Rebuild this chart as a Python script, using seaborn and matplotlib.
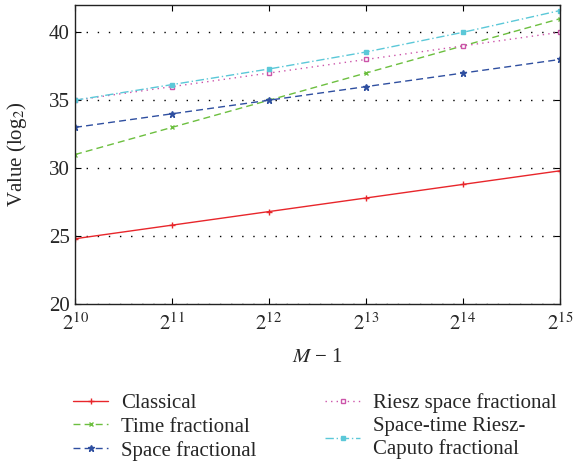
import numpy as np
import pandas as pd
import matplotlib
matplotlib.use("Agg")
import matplotlib.pyplot as plt
import seaborn as sns

# data
exponents = [10, 11, 12, 13, 14, 15]
x_labels = [f"$2^{{{e}}}$" for e in exponents]

classical = [24.8, 25.8, 26.8, 27.8, 28.8, 29.8]
time_frac = [31, 33, 35, 37, 39, 41]
space_frac = [33, 34, 35, 36, 37, 38]
riesz_space = [35, 36, 37, 38, 39, 40]
space_time = [35, 36.15, 37.3, 38.55, 40, 41.6]

series_names = ["Classical", "Time fractional", "Space fractional",
                "Riesz space fractional", "Space-time Riesz-\nCaputo fractional"]
series_values = [classical, time_frac, space_frac, riesz_space, space_time]

sns.set_theme(style="ticks")
plt.rcParams['font.family'] = ['Liberation Serif', 'DejaVu Serif']
plt.rcParams['mathtext.fontset'] = 'stix'

styles = [
    dict(color='#e8262b', ls='-', marker='+', ms=4, mfc='#e8262b'),
    dict(color='#6cbf3f', ls=(0, (5, 3)), marker='x', ms=3.5, mfc='#6cbf3f'),
    dict(color='#2f4fa0', ls=(0, (5, 3)), marker='*', ms=4.5, mfc='#2f4fa0'),
    dict(color='#cc55aa', ls=(0, (1, 3)), marker='s', ms=3.5, mfc='white'),
    dict(color='#5bc8d8', ls=(0, (6, 2, 1, 2)), marker='s', ms=3.5, mfc='#5bc8d8'),
]

fig = plt.figure(figsize=(5.73, 4.69), dpi=100)
ax = fig.add_axes([0.131, 0.352, 0.846, 0.637])

for name, vals, st in zip(series_names, series_values, styles):
    df = pd.DataFrame({'x': exponents, 'y': vals})
    sns.lineplot(data=df, x='x', y='y', ax=ax, label=name,
                 color=st['color'], linestyle=st['ls'], marker=st['marker'],
                 markersize=st['ms'], markerfacecolor=st['mfc'],
                 markeredgecolor=st['color'], markeredgewidth=1.0, linewidth=1.0)

ax.set_xlim(10, 15)
ax.set_ylim(20, 42)
ax.set_xticks(exponents)
ax.set_xticklabels(x_labels, fontsize=15)
ax.set_yticks([20, 25, 30, 35, 40])
ax.tick_params(axis='both', direction='in', top=True, right=True, labelsize=15,
               length=4, width=0.8, color='black')
ax.tick_params(axis='x', pad=7)
ax.tick_params(axis='y', pad=4)
for s in ax.spines.values():
    s.set_color('#222222')
    s.set_linewidth(1.0)

ax.yaxis.grid(True, linestyle=(0, (1, 7)), color='black', linewidth=1.0)
ax.xaxis.grid(False)

ax.set_xlabel("$M$ − 1", fontsize=15, labelpad=9)
ax.set_ylabel("Value (log$_2$)", fontsize=15, labelpad=14)

ax.legend(loc='upper left', bbox_to_anchor=(73 / 573, 1 - 393 / 469),
          bbox_transform=fig.transFigure, ncol=2, frameon=False, borderpad=0,
          borderaxespad=0, fontsize=15, handlelength=1.7, columnspacing=3.3,
          labelspacing=0.2, handletextpad=0.6)

plt.savefig("out.png", dpi=100)
plt.close()
